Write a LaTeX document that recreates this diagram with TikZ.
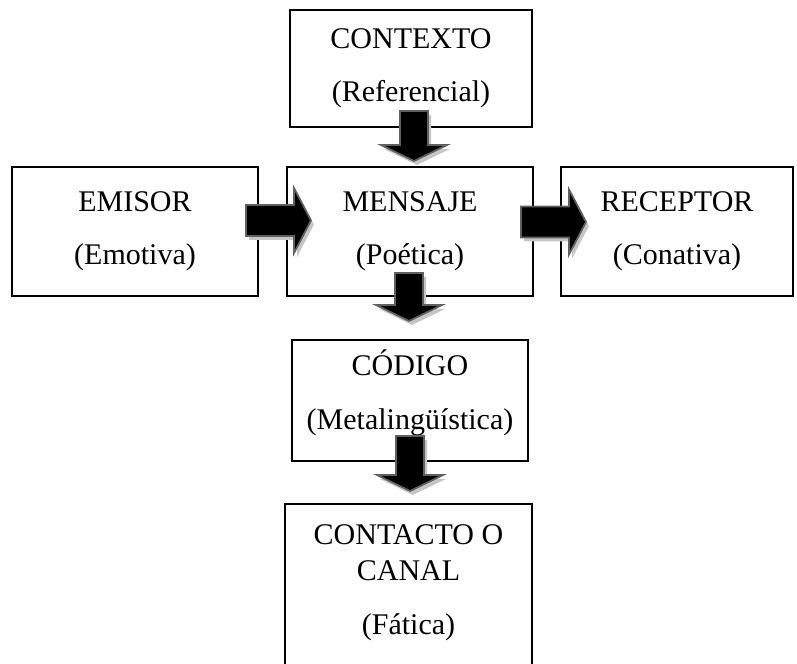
\documentclass[tikz,border=0pt]{standalone}
\usepackage{fontspec}
\setmainfont{Liberation Serif}
\usetikzlibrary{calc}

\tikzset{
  box/.style={draw, line width=0.8pt, inner sep=0pt, align=center,
    font=\fontsize{12}{14.4}\selectfont},
  boxtext/.style={inner sep=0pt, align=center,
    font=\fontsize{12}{14.4}\selectfont},
  arrbody/.style={fill=black, draw=gray!75!black, line width=0.7pt, line join=miter},
  arrshade/.style={fill=gray!45, xshift=1.2pt, yshift=-1.6pt},
  pics/rarr/.style={code={
    \path[arrshade] (-32.5,-15.5) -- (15.5,-15.5) -- (15.5,-32.5) -- (32.5,0)
      -- (15.5,32.5) -- (15.5,15.5) -- (-32.5,15.5) -- cycle;
    \path[arrbody] (-32.5,-15.5) -- (15.5,-15.5) -- (15.5,-32.5) -- (32.5,0)
      -- (15.5,32.5) -- (15.5,15.5) -- (-32.5,15.5) -- cycle;
  }},
  pics/darr/.style={code={
    \path[arrshade] (-14,-#1/2) -- (14,-#1/2) -- (14,#1/2-16) -- (33,#1/2-16)
      -- (0,#1/2) -- (-33,#1/2-16) -- (-14,#1/2-16) -- cycle;
    \path[arrbody] (-14,-#1/2) -- (14,-#1/2) -- (14,#1/2-16) -- (33,#1/2-16)
      -- (0,#1/2) -- (-33,#1/2-16) -- (-14,#1/2-16) -- cycle;
  }}
}

\begin{document}
\begin{tikzpicture}[x=0.4pt,y=-0.4pt]
  \path[use as bounding box, clip] (0,0) rectangle (797,664);

  % boxes
  \node[box, minimum width=242*0.4pt, minimum height=117*0.4pt] (contexto) at (411,68.5)
    {CONTEXTO\\[7pt](Referencial)};
  \node[box, minimum width=246*0.4pt, minimum height=129*0.4pt] (emisor) at (135,231.5)
    {EMISOR\\[7pt](Emotiva)};
  \node[box, minimum width=246*0.4pt, minimum height=129*0.4pt] (mensaje) at (410,231.5)
    {MENSAJE\\[7pt](Poética)};
  \node[box, minimum width=232*0.4pt, minimum height=129*0.4pt] (receptor) at (677,231.5)
    {RECEPTOR\\[7pt](Conativa)};
  \node[box, minimum width=236*0.4pt, minimum height=121*0.4pt] (codigo) at (410,400.5) {};
  \node[boxtext] (codigotxt) at (410,393)
    {CÓDIGO\\[7pt](Metalingüística)};
  \node[box, minimum width=247*0.4pt, minimum height=180*0.4pt] (contacto) at (408.5,594) {};
  \node[boxtext] (contactotxt) at (408.5,583)
    {CONTACTO O\\CANAL\\[7pt](Fática)};

  % block arrows
  \pic at ($(emisor.east)+(19.5,-11)$) {rarr};
  \pic at ($(mensaje.east)+(19.5,-9.5)$) {rarr};
  \pic at ($(contexto.south)+(3,8)$) {darr=50};
  \pic at ($(mensaje.south)+(-1,0)$) {darr=48};
  \pic at ($(codigo.south)+(0,1.5)$) {darr=55};
\end{tikzpicture}
\end{document}
